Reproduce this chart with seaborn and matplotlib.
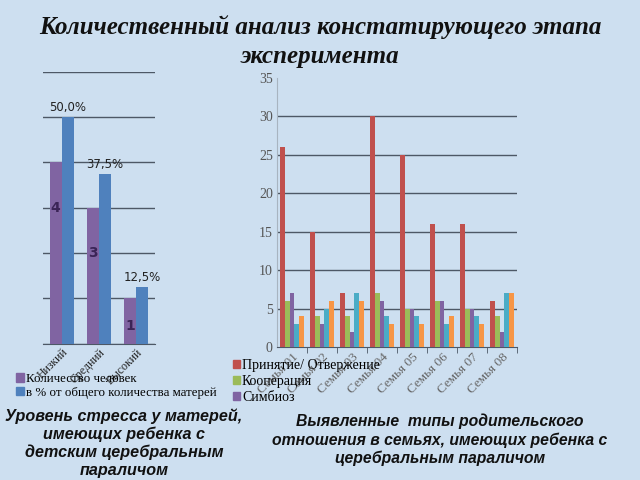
import matplotlib
matplotlib.use("Agg")
import matplotlib.pyplot as plt
from matplotlib.patches import Patch
import seaborn as sns
import pandas as pd

# ---- data: left chart ----
stress_levels = ["Низкий", "Средний", "Высокий"]
stress_count = [4, 3, 1]
stress_percent = [50.0, 37.5, 12.5]
stress_series = ["Количество человек", "в % от общего количества матерей"]

# ---- data: right chart ----
families = ["Семья 01", "Семья 02", "Семья 03", "Семья 04",
            "Семья 05", "Семья 06", "Семья 07", "Семья 08"]
relation_types = ["Принятие/ Отвержение", "Кооперация", "Симбиоз",
                  "Авторитарная гиперсоциализация", "Маленький неудачник"]
acceptance = [26, 15, 7, 30, 25, 16, 16, 6]
cooperation = [6, 4, 4, 7, 5, 6, 5, 4]
symbiosis = [7, 3, 2, 6, 5, 6, 5, 2]
authoritarian = [3, 5, 7, 4, 4, 3, 4, 7]
little_loser = [4, 6, 6, 3, 3, 4, 3, 7]

left_colors = {stress_series[0]: "#8064A2", stress_series[1]: "#4F81BD"}
right_colors = dict(zip(relation_types,
                        ["#C0504D", "#9BBB59", "#8064A2", "#4BACC6", "#F79646"]))

BG = "#cddff0"
GRID = "#4d5866"
W, H = 640, 480

fig = plt.figure(figsize=(6.4, 4.8), dpi=100)
fig.patch.set_facecolor(BG)


def px_axes(x0, y0, x1, y1):
    return fig.add_axes([x0 / W, 1 - y1 / H, (x1 - x0) / W, (y1 - y0) / H])


# ================= left chart =================
ax1 = px_axes(43, 71.7, 155, 343.7)
ax1.patch.set_alpha(0)
df_cnt = pd.DataFrame({"level": stress_levels, "value": stress_count,
                       "series": stress_series[0]})
df_pct = pd.DataFrame({"level": stress_levels, "value": stress_percent,
                       "series": stress_series[1]})
sns.barplot(data=df_cnt, x="level", y="value", hue="series",
            hue_order=stress_series, order=stress_levels, palette=left_colors,
            width=0.65, dodge=True, saturation=1, ax=ax1, legend=False, zorder=3)
ax1.set_ylim(0, 6)
ax1.set_yticks(range(0, 7))
ax1.yaxis.grid(True, color=GRID, linewidth=1.0)
ax1.set_axisbelow(True)
ax1.tick_params(axis="y", length=0, labelleft=False)
ax1.tick_params(axis="x", length=0, pad=2)
for s in ["top", "right", "left"]:
    ax1.spines[s].set_visible(False)
ax1.spines["bottom"].set_color(GRID)
ax1.set_xlabel("")
ax1.set_ylabel("")
ax1.set_xlim(-0.5, len(stress_levels) - 0.5)
ax1.set_xticks(range(len(stress_levels)))
ax1.set_xticklabels(stress_levels, rotation=45, ha="right", va="top",
                    rotation_mode="anchor", family="Liberation Serif",
                    fontsize=8.5, color="#222222")

ax2 = ax1.twinx()
ax2.patch.set_alpha(0)
sns.barplot(data=df_pct, x="level", y="value", hue="series",
            hue_order=stress_series, order=stress_levels, palette=left_colors,
            width=0.65, dodge=True, saturation=1, ax=ax2, legend=False, zorder=3)
ax2.set_ylim(0, 60)
ax2.set_xlim(-0.5, len(stress_levels) - 0.5)
ax2.axis("off")

for cont in ax1.containers:
    for bar, v in zip(cont, stress_count):
        h = bar.get_height()
        if h > 0:
            ax1.text(bar.get_x() + bar.get_width() / 2, h - min(1.0, 0.6 * h),
                     str(v), ha="center", va="center", fontsize=10,
                     fontweight="bold", color="#3b2456", zorder=5)
for cont in ax2.containers:
    for bar, v in zip(cont, stress_percent):
        if bar.get_height() > 0:
            ax2.text(bar.get_x() + bar.get_width() / 2, bar.get_height() + 0.7,
                     f"{v:.1f}%".replace(".", ","), ha="center", va="bottom",
                     fontsize=8.5, color="#222222", zorder=5)

fig.legend(handles=[Patch(color=left_colors[s], label=s) for s in stress_series],
           loc="upper left", bbox_to_anchor=(16 / W, 1 - 373 / H),
           frameon=False, prop={"family": "Liberation Serif", "size": 9.3},
           handlelength=0.6, handleheight=0.6, handletextpad=0.2,
           labelspacing=0.15, borderaxespad=0, borderpad=0)

# ================= right chart =================
ax3 = px_axes(277, 78, 517, 347)
ax3.patch.set_alpha(0)
series_values = [acceptance, cooperation, symbiosis, authoritarian, little_loser]
df_rel = pd.DataFrame(
    [{"family": f, "type": t, "value": v}
     for t, vals in zip(relation_types, series_values)
     for f, v in zip(families, vals)])
sns.barplot(data=df_rel, x="family", y="value", hue="type",
            hue_order=relation_types, order=families, palette=right_colors,
            width=0.83, saturation=1, ax=ax3, legend=False, zorder=3)
ax3.set_ylim(0, 35)
ax3.set_yticks(range(0, 36, 5))
ax3.yaxis.grid(True, color=GRID, linewidth=1.0)
ax3.get_ygridlines()[-1].set_visible(False)
ax3.get_ygridlines()[0].set_visible(False)
ax3.set_axisbelow(True)
ax3.set_xlim(-0.5, len(families) - 0.5)
for s in ["top", "right"]:
    ax3.spines[s].set_visible(False)
ax3.spines["left"].set_color("#a8b4c0")
ax3.spines["bottom"].set_color(GRID)
ax3.tick_params(axis="y", length=0, pad=3, labelsize=10, labelcolor="#555555")
for lab in ax3.get_yticklabels():
    lab.set_family("Liberation Serif")
ax3.set_xticks([i + 0.5 for i in range(len(families))], minor=True)
ax3.tick_params(axis="x", which="minor", length=4, color=GRID)
ax3.tick_params(axis="x", which="major", length=0, pad=3)
ax3.set_xticks(range(len(families)))
ax3.set_xticklabels(families, rotation=45, ha="right", va="top",
                    rotation_mode="anchor", family="Liberation Serif",
                    fontsize=9.5, color="#666666")
ax3.set_xlabel("")
ax3.set_ylabel("")

fig.legend(handles=[Patch(color=right_colors[t], label=t) for t in relation_types[:3]],
           loc="upper left", bbox_to_anchor=(233 / W, 1 - 359 / H),
           frameon=False, prop={"family": "Liberation Serif", "size": 10},
           handlelength=0.5, handleheight=0.5, handletextpad=0.15,
           labelspacing=0.2, borderaxespad=0, borderpad=0)

# ================= texts =================
title_font = dict(family="Liberation Serif", fontweight="bold", style="italic",
                  fontsize=18, color="#111111", ha="center", va="center")
fig.text(0.5, 1 - 27 / H, "Количественный анализ констатирующего этапа", **title_font)
fig.text(0.5, 1 - 56 / H, "эксперимента", **title_font)

fig.text(124 / W, 1 - 443 / H,
         "Уровень стресса у матерей,\nимеющих ребенка с\nдетским церебральным\nпараличом",
         family="Liberation Sans", fontweight="bold", style="italic",
         fontsize=11.6, color="#111111", ha="center", va="center",
         linespacing=1.2)

fig.text(440 / W, 1 - 440 / H,
         "Выявленные  типы родительского\nотношения в семьях, имеющих ребенка с\nцеребральным параличом",
         family="Liberation Sans", fontweight="bold", style="italic",
         fontsize=11.3, color="#111111", ha="center", va="center",
         linespacing=1.25)

fig.savefig("out.png", dpi=100, facecolor=BG)
